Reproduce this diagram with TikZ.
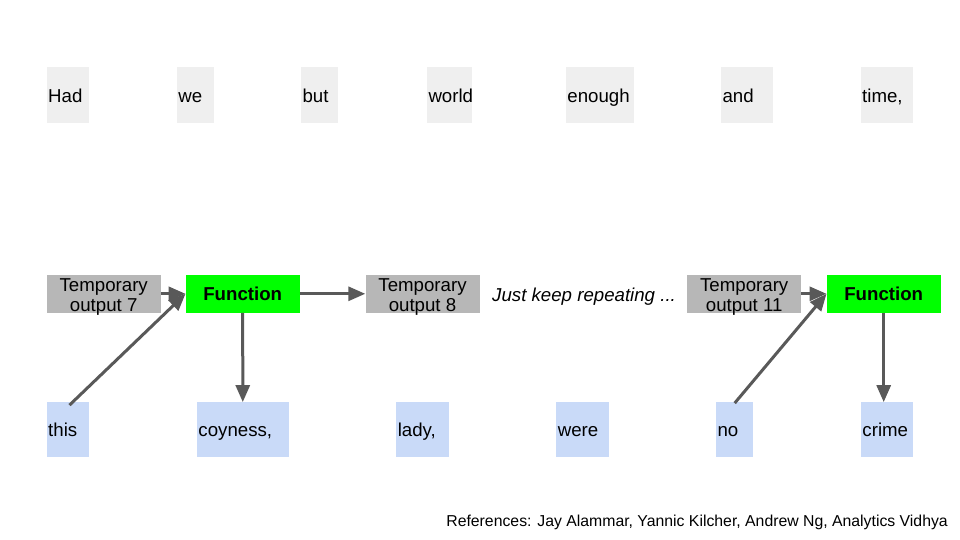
\documentclass[tikz,border=0pt]{standalone}
\usepackage{fontspec}
\setmainfont{Liberation Sans}
\usetikzlibrary{arrows.meta}
\definecolor{topgrey}{HTML}{EFEFEF}
\definecolor{tempgrey}{HTML}{B7B7B7}
\definecolor{wordblue}{HTML}{C9DAF8}
\definecolor{funcgreen}{HTML}{00FF00}
\definecolor{arrowgrey}{HTML}{595959}
\tikzset{
  base font/.style={font=\fontsize{18.67}{20.5}\selectfont},
  wordbox/.style={base font, inner ysep=0pt, inner xsep=1.5pt, align=left,
    text height=13.4pt, text depth=0pt, minimum height=#1},
  topword/.style={wordbox=56pt, fill=topgrey},
  botword/.style={wordbox=55pt, fill=wordblue},
  tempbox/.style={base font, fill=tempgrey, inner sep=0pt, align=center,
    minimum width=114pt, minimum height=37.7pt, text height=35.8pt, text depth=0pt},
  funcbox/.style={base font, font=\fontsize{18.67}{20.5}\selectfont\bfseries, fill=funcgreen, inner sep=0pt,
    minimum width=114pt, minimum height=37.7pt, text height=13.4pt, text depth=0pt},
  arr/.style={draw=arrowgrey, line width=3pt, -{Triangle[length=17pt,width=14pt]}}
}
\begin{document}
\begin{tikzpicture}[x=1pt,y=-1pt]
\useasboundingbox (0,0) rectangle (960,540);
% top row
\node[topword, text width=39.6pt] (had) at (68,95.5) {Had};
\node[topword, text width=33.7pt] (we) at (195.3,95.5) {we};
\node[topword, text width=34pt] (but) at (319.5,95.5) {but};
\node[topword, text width=42pt] (world) at (449.5,95.5) {world};
\node[topword, text width=64.7pt] (enough) at (599.8,95.5) {enough};
\node[topword, text width=49pt] (and) at (747,95.5) {and};
\node[topword, text width=49pt] (time) at (886.7,95.5) {time,};
% middle row
\node[tempbox] (t7) at (103.7,293.8) {Temporary\\output 7};
\node[funcbox] (f1) at (242.7,293.8) {Function};
\node[tempbox] (t8) at (422.5,293.8) {Temporary\\output 8};
\node[base font, font=\fontsize{18.67}{20.5}\selectfont\itshape, anchor=base west, inner sep=0pt] (rep) at (492,301.3) {Just keep repeating ...};
\node[tempbox] (t11) at (744.2,293.8) {Temporary\\output 11};
\node[funcbox] (f2) at (883.7,293.8) {Function};
% bottom row
\node[botword, text width=39.6pt] (this) at (68,429.8) {this};
\node[botword, text width=88.7pt] (coy) at (242.8,429.8) {coyness,};
\node[botword, text width=49.4pt] (lady) at (422.5,429.8) {lady,};
\node[botword, text width=49.4pt] (were) at (582.5,429.8) {were};
\node[botword, text width=34.3pt] (no) at (734.7,429.8) {no};
\node[botword, text width=48.7pt] (crime) at (886.8,429.8) {crime};
% references
\node[font=\fontsize{15.8}{17}\selectfont, anchor=base east, inner sep=0pt] (refs) at (948,526.3) {References: Jay Alammar, Yannic Kilcher, Andrew Ng, Analytics Vidhya};
% arrows
\draw[arr] (t7) -- (f1);
\draw[arr] ([shift={(1.5pt,-3pt)}]this.north) -- (f1.west);
\draw[arr] (f1) -- (coy);
\draw[arr] (f1) -- (t8);
\draw[arr] (t11) -- (f2);
\draw[arr] ([yshift=-1pt]no.north) -- (f2.west);
\draw[arr] (f2.south) -- (f2.south |- crime.north);
\end{tikzpicture}
\end{document}
